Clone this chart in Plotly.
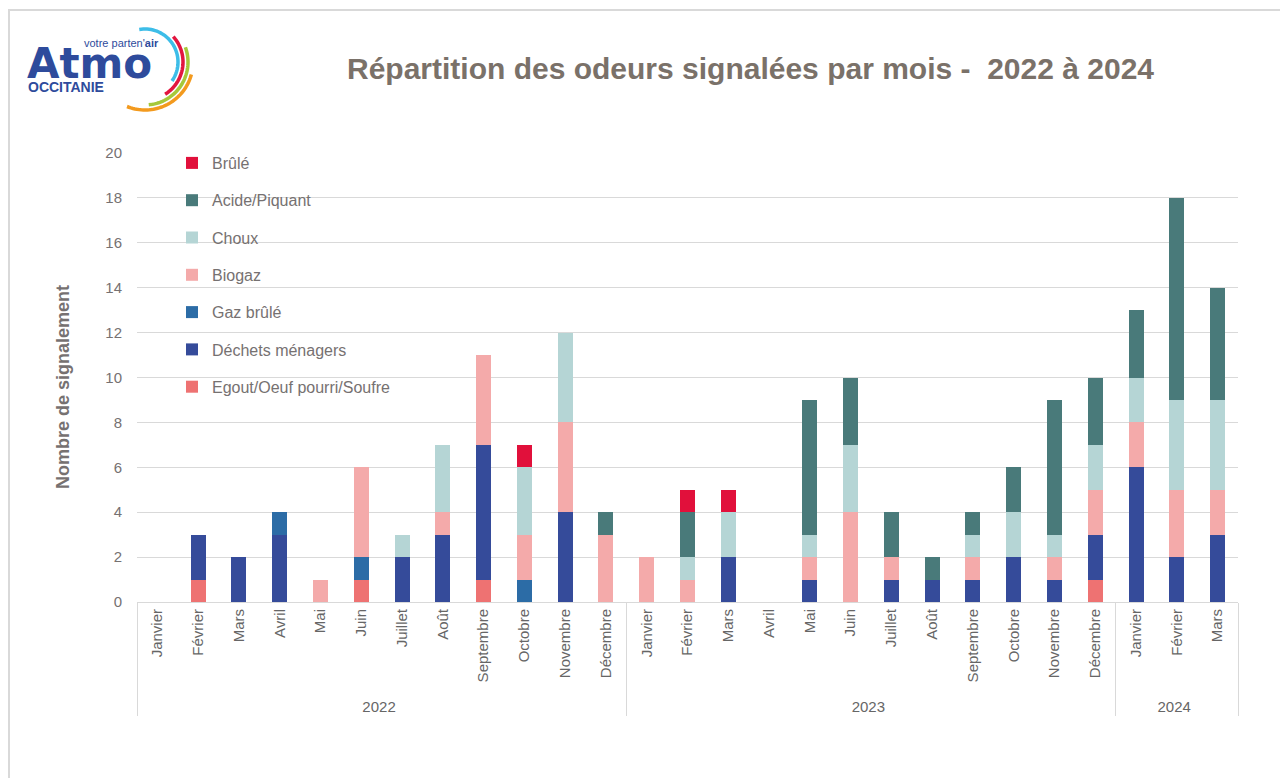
import numpy as np
import plotly.graph_objects as go

# ---------------- data ----------------
years = ["2022"] * 12 + ["2023"] * 12 + ["2024"] * 3
months = ["Janvier", "Février", "Mars", "Avril", "Mai", "Juin", "Juillet", "Août",
          "Septembre", "Octobre", "Novembre", "Décembre"] * 2 + ["Janvier", "Février", "Mars"]

egout =   [0, 1, 0, 0, 0, 1, 0, 0, 1, 0, 0, 0,   0, 0, 0, 0, 0, 0, 0, 0, 0, 0, 0, 1,   0, 0, 0]
dechets = [0, 2, 2, 3, 0, 0, 2, 3, 6, 0, 4, 0,   0, 0, 2, 0, 1, 0, 1, 1, 1, 2, 1, 2,   6, 2, 3]
gaz =     [0, 0, 0, 1, 0, 1, 0, 0, 0, 1, 0, 0,   0, 0, 0, 0, 0, 0, 0, 0, 0, 0, 0, 0,   0, 0, 0]
biogaz =  [0, 0, 0, 0, 1, 4, 0, 1, 4, 2, 4, 3,   2, 1, 0, 0, 1, 4, 1, 0, 1, 0, 1, 2,   2, 3, 2]
choux =   [0, 0, 0, 0, 0, 0, 1, 3, 0, 3, 4, 0,   0, 1, 2, 0, 1, 3, 0, 0, 1, 2, 1, 2,   2, 4, 4]
acide =   [0, 0, 0, 0, 0, 0, 0, 0, 0, 0, 0, 1,   0, 2, 0, 0, 6, 3, 2, 1, 1, 2, 6, 3,   3, 9, 5]
brule =   [0, 0, 0, 0, 0, 0, 0, 0, 0, 1, 0, 0,   0, 1, 1, 0, 0, 0, 0, 0, 0, 0, 0, 0,   0, 0, 0]

series_names = ["Egout/Oeuf pourri/Soufre", "Déchets ménagers", "Gaz brûlé", "Biogaz",
                "Choux", "Acide/Piquant", "Brûlé"]
series_values = [egout, dechets, gaz, biogaz, choux, acide, brule]
series_colors = ["#EE7272", "#354B9A", "#2C6CA6", "#F4AAAA", "#B5D5D5", "#497A7A", "#E1103B"]

title_text = "Répartition des odeurs signalées par mois -  2022 à 2024"
y_title = "Nombre de signalement"

# ---------------- geometry (screen pixels; the page body adds an 8px offset) ----------------
OFF = 8
W, H = 1280, 770
PLOT_L, PLOT_R, PLOT_T, PLOT_B = 137, 1238, 153, 602   # screen pixels
ML, MT = PLOT_L - OFF, PLOT_T - OFF
MR, MB = W - (PLOT_R - OFF), H - (PLOT_B - OFF)
PW, PH = PLOT_R - PLOT_L, PLOT_B - PLOT_T


def px_x(px):
    return (px - PLOT_L) / PW


def px_y(py):
    return (PLOT_B - py) / PH


fig = go.Figure()
for i, (name, vals, col) in enumerate(zip(series_names, series_values, series_colors)):
    fig.add_trace(go.Bar(
        x=[years, months], y=vals, name=name, legendgroup=name,
        legendrank=len(series_names) - i,
        marker=dict(color=col, line=dict(width=0)),
    ))

GRAY = "#D9D9D9"
TXT = "#767171"
FONT = "Liberation Sans, Arial, sans-serif"

fig.update_layout(
    width=W, height=H,
    margin=dict(l=ML, r=MR, t=MT, b=MB),
    paper_bgcolor="white", plot_bgcolor="white",
    barmode="stack", bargap=0.63,
    font=dict(family=FONT, color=TXT, size=15),
    showlegend=True,
    legend=dict(
        x=px_x(172), y=px_y(146), xanchor="left", yanchor="top",
        traceorder="grouped", tracegroupgap=13.5,
        font=dict(size=16, color=TXT, family=FONT),
        bgcolor="rgba(0,0,0,0)", itemwidth=30,
    ),
    xaxis=dict(
        type="multicategory", tickangle=-90,
        showline=True, linecolor=GRAY, linewidth=1,
        showdividers=True, dividercolor=GRAY, dividerwidth=1,
        tickfont=dict(size=15, color="#666666", family=FONT),
        ticks="", showgrid=False,
    ),
    yaxis=dict(
        range=[0, 20], dtick=2, tick0=0,
        showgrid=True, gridcolor=GRAY, gridwidth=1,
        zeroline=False, showline=False, ticks="",
        tickfont=dict(size=15, color=TXT, family=FONT),
        ticklabelstandoff=14,
    ),
)

# y-axis title (placed like the reference, slightly below the plot's centre)
fig.add_annotation(
    text=f"<b>{y_title}</b>", xref="paper", yref="paper",
    x=px_x(63), y=px_y(387), xanchor="center", yanchor="middle", textangle=-90,
    showarrow=False, font=dict(size=18, color=TXT, family=FONT),
)

# title
fig.add_annotation(
    text=title_text, xref="paper", yref="paper",
    x=px_x(750), y=px_y(68), xanchor="center", yanchor="middle",
    showarrow=False, font=dict(size=30, color="#7A7169", family=FONT, weight="bold"),
)

# outer frame
fig.add_shape(type="rect", xref="paper", yref="paper",
              x0=px_x(9), x1=px_x(1284), y0=px_y(800), y1=px_y(10),
              line=dict(color=GRAY, width=2), fillcolor="rgba(0,0,0,0)", layer="below")

# logo text
BLUE = "#2E4B9C"
fig.add_annotation(text="<b>Atmo</b>", xref="paper", yref="paper", x=px_x(25), y=px_y(64),
                   xanchor="left", yanchor="middle", showarrow=False,
                   font=dict(size=42, color=BLUE, family="DejaVu Sans"))
fig.add_annotation(text="votre parten'<b>air</b>", xref="paper", yref="paper", x=px_x(82), y=px_y(43),
                   xanchor="left", yanchor="middle", showarrow=False,
                   font=dict(size=11, color=BLUE, family=FONT))
fig.add_annotation(text="<b>OCCITANIE</b>", xref="paper", yref="paper", x=px_x(26), y=px_y(87.5),
                   xanchor="left", yanchor="middle", showarrow=False,
                   font=dict(size=14, color=BLUE, family=FONT))

# logo arcs
cx, cy = 145, 62
arcs = [(33, 100, -35, "#3DBDE8"), (38, 42, -58, "#E2163F"),
        (43, 20, -85, "#A6C83A"), (48, -15, -112, "#F39A1E")]
for r, a0, a1, col in arcs:
    t = np.radians(np.linspace(a0, a1, 40))
    xs = cx + r * np.cos(t)
    ys = cy - r * np.sin(t)
    path = "M " + " L ".join(f"{px_x(a):.5f},{px_y(b):.5f}" for a, b in zip(xs, ys))
    fig.add_shape(type="path", xref="paper", yref="paper", path=path,
                  line=dict(color=col, width=3.5))

fig.write_html("out.html")
